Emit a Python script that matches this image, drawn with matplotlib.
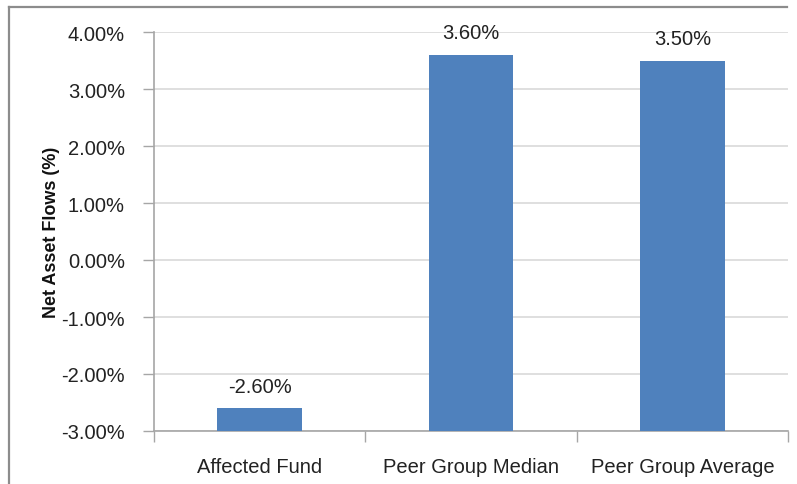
import matplotlib
matplotlib.use("Agg")
import matplotlib.pyplot as plt
from matplotlib.lines import Line2D

categories = ["Affected Fund", "Peer Group Median", "Peer Group Average"]
values = [-2.60, 3.60, 3.50]
yticks = [-3, -2, -1, 0, 1, 2, 3, 4]
ylabel = "Net Asset Flows (%)"

plt.rcParams['font.family'] = ['Liberation Sans', 'DejaVu Sans']

DPI = 100
fig = plt.figure(figsize=(7.97, 4.85), dpi=DPI)
ax = fig.add_axes([154/797, 1-432/485, (788-154)/797, (432-33)/485])

base = -3.0
x = list(range(len(categories)))
bars = ax.bar(x, [v - base for v in values], bottom=base, width=0.4,
              color="#4f81bd", zorder=3)

for xi, v in zip(x, values):
    ax.annotate(f"{v:.2f}%", (xi, v), xytext=(0, 9), textcoords="offset points",
                ha="center", va="bottom", fontsize=14.5, color="#222222")

ax.set_xlim(-0.5, len(categories) - 0.5)
ax.set_ylim(-3, 4)
ax.set_yticks(yticks)
ax.set_yticklabels([f"{t:.2f}%" for t in yticks])
ax.yaxis.grid(True, color="#d9d9d9", linewidth=1.2, zorder=0)
ax.set_axisbelow(True)

ax.set_xticks(x)
ax.set_xticklabels(categories)
ax.set_xticks([i - 0.5 for i in range(len(categories) + 1)], minor=True)
ax.tick_params(axis="x", which="major", length=0, pad=19, labelsize=14.5, labelcolor="#222222")
ax.tick_params(axis="x", which="minor", length=8, width=1, color="#a6a6a6", direction="out")
ax.tick_params(axis="y", length=8, width=1, color="#a6a6a6", pad=13, labelsize=14.5, labelcolor="#222222")

for s in ["top", "right"]:
    ax.spines[s].set_visible(False)
for s in ["left", "bottom"]:
    ax.spines[s].set_color("#a6a6a6")
    ax.spines[s].set_linewidth(1.2)

ax.set_ylabel(ylabel, fontsize=13, fontweight="bold", color="#111111")
ax.yaxis.set_label_coords(-94/634, 0.5)

# outer frame (left and top edges)
fig.add_artist(Line2D([8.5/797, 8.5/797], [0, 1-8/485], transform=fig.transFigure,
                      color="#8c8c8c", linewidth=1.6))
fig.add_artist(Line2D([8.5/797, 787/797], [1-8/485, 1-8/485], transform=fig.transFigure,
                      color="#8c8c8c", linewidth=1.6))

fig.savefig("out.png", dpi=DPI)
